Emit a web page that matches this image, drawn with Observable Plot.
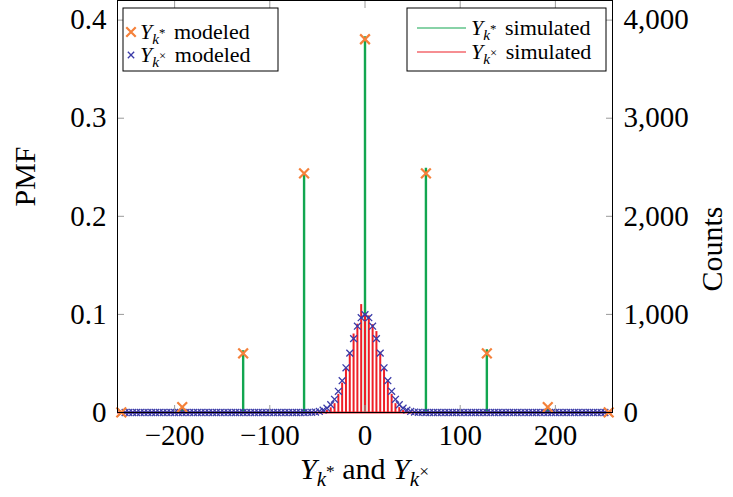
<!DOCTYPE html>
<html><head><meta charset="utf-8">
<script src="https://cdn.jsdelivr.net/npm/d3@7"></script>
<script src="https://cdn.jsdelivr.net/npm/@observablehq/plot@0.6"></script>
<style>body{margin:0;background:#fff} svg{display:block}</style>
</head><body><div id="chart"></div>
<script>
// Y_k* : lattice points, modeled PMF and simulated counts
const starX = [-256, -192, -128, -64, 0, 64, 128, 192, 256];
const starPmf = [0.0002, 0.0055, 0.0603, 0.2438, 0.3805, 0.2438, 0.0603, 0.0055, 0.0002];
const starCounts = [2, 48, 630, 2425, 3830, 2490, 640, 50, 2];

// Y_k× : fine grid, modeled PMF and simulated counts
const crossX = [-256,-252,-248,-244,-240,-236,-232,-228,-224,-220,-216,-212,-208,-204,-200,-196,-192,-188,-184,-180,-176,-172,-168,-164,-160,-156,-152,-148,-144,-140,-136,-132,-128,-124,-120,-116,-112,-108,-104,-100,-96,-92,-88,-84,-80,-76,-72,-68,-64,
 -60,-56,-52,-48,-44,-40,-36,-32,-28,-24,-20,-16,-12,-8,-4,0,4,8,12,16,20,24,28,32,36,40,44,48,52,56,60,
 64,68,72,76,80,84,88,92,96,100,104,108,112,116,120,124,128,132,136,140,144,148,152,156,160,164,168,172,176,180,184,188,192,196,200,204,208,212,216,220,224,228,232,236,240,244,248,252,256];
const crossPmf = [0,0,0,0,0,0,0,0,0,0,0,0,0,0,0,0,0,0,0,0,0,0,0,0,0,0,0,0,0,0,0,0,0,0,0,0,0,0,0,0,0,0,0,0,0,0,0,0,0,
 0.0001,0.0002,0.0005,0.0011,0.0023,0.0044,0.0079,0.0135,0.0216,0.0324,0.0456,0.0605,0.0753,0.0880,0.0966,0.0997,
 0.0966,0.0880,0.0753,0.0605,0.0456,0.0324,0.0216,0.0135,0.0079,0.0044,0.0023,0.0011,0.0005,0.0002,0.0001,
 0,0,0,0,0,0,0,0,0,0,0,0,0,0,0,0,0,0,0,0,0,0,0,0,0,0,0,0,0,0,0,0,0,0,0,0,0,0,0,0,0,0,0,0,0,0,0,0,0];
const crossCounts = [0,0,0,0,0,0,0,0,0,0,0,0,0,0,0,0,0,0,0,0,0,0,0,0,0,0,0,0,0,0,0,0,0,0,0,0,0,0,0,0,0,0,0,0,0,0,0,0,0,
 0,0,1,4,10,22,48,90,185,300,455,610,800,900,1100,1005,
 985,895,825,615,445,330,185,90,50,20,8,3,1,0,0,
 0,0,0,0,0,0,0,0,0,0,0,0,0,0,0,0,0,0,0,0,0,0,0,0,0,0,0,0,0,0,0,0,0,0,0,0,0,0,0,0,0,0,0,0,0,0,0,0,0];

const xTicks = [-200, -100, 0, 100, 200];
const pmfTicks = [0, 0.1, 0.2, 0.3, 0.4];
const countTicks = [0, 1000, 2000, 3000, 4000];
const COUNTS_PER_PMF = 10000; // right axis: 4,000 counts aligned with PMF 0.4

const W = 733, H = 497, mL = 117, mR = 121, mT = 0, mB = 85;
const F = "'Liberation Serif', 'DejaVu Serif', serif";
const ORANGE = "#f5813a", BLUE = "#3b3ba8", GREEN = "#12a650", RED = "#ee1f27", TICK = "#9a9a9a";

const stars = starX.map((x, i) => ({x, pmf: starPmf[i], count: starCounts[i]}));
const crosses = crossX.map((x, i) => ({x, pmf: crossPmf[i], count: crossCounts[i]}));

const plot = Plot.plot({
  width: W, height: H,
  marginLeft: mL, marginRight: mR, marginTop: mT, marginBottom: mB,
  x: {domain: [-260, 260]},
  y: {domain: [0, 0.42]},
  style: {fontFamily: F, fontSize: "29px", background: "white", color: "black", overflow: "visible"},
  marks: [
    Plot.ruleX(stars, {x: "x", y1: 0, y2: d => d.count / COUNTS_PER_PMF, stroke: GREEN, strokeWidth: 2.4}),
    Plot.ruleX(crosses.filter(d => d.count > 0), {x: "x", y1: 0, y2: d => d.count / COUNTS_PER_PMF, stroke: RED, strokeWidth: 2}),
    Plot.ruleY([0], {stroke: RED, strokeWidth: 2}),
    Plot.dot(crosses, {x: "x", y: "pmf", symbol: "times", r: 3.2, stroke: BLUE, strokeWidth: 1.3}),
    Plot.dot(stars, {x: "x", y: "pmf", symbol: "times", r: 4.5, stroke: ORANGE, strokeWidth: 2.2}),
    Plot.axisX({anchor: "bottom", ticks: xTicks, tickSize: -7, stroke: TICK, tickFormat: () => "", label: null}),
    Plot.axisX({anchor: "top", ticks: xTicks, tickSize: -7, stroke: TICK, tickFormat: () => "", label: null}),
    Plot.axisX({anchor: "bottom", ticks: xTicks, tickSize: 0, tickPadding: 12, fontSize: 29, label: null}),
    Plot.axisY({anchor: "left", ticks: pmfTicks, tickSize: -7, stroke: TICK, tickFormat: () => "", label: null}),
    Plot.axisY({anchor: "left", ticks: pmfTicks, tickSize: 0, tickPadding: 11, fontSize: 29, tickFormat: d3.format("~g"), label: null}),
    Plot.axisY({anchor: "right", ticks: pmfTicks, tickSize: -7, stroke: TICK, tickFormat: () => "", label: null}),
    Plot.axisY({anchor: "right", ticks: countTicks.map(c => c / COUNTS_PER_PMF), tickSize: 0, tickPadding: 11, fontSize: 29,
      tickFormat: d => d3.format(",")(Math.round(d * COUNTS_PER_PMF)), label: null}),
    Plot.frame({stroke: "black", strokeWidth: 1}),
    Plot.text(["PMF"], {frameAnchor: "left", dx: -92, rotate: -90, fontSize: 30, text: d => d}),
    Plot.text(["Counts"], {frameAnchor: "right", dx: 100, rotate: -90, fontSize: 30, text: d => d})
  ]
});
document.getElementById("chart").appendChild(plot);

const svg = d3.select(plot);

function mathY(t, size, sup) {
  t.append("tspan").attr("font-style", "italic").text("Y");
  t.append("tspan").attr("font-style", "italic").attr("font-size", size * 0.7).attr("dy", size * 0.22).text("k");
  t.append("tspan").attr("font-size", size * 0.58).attr("dy", -size * 0.3).text(sup);
}

// x axis label
{
  const s = 30;
  const t = svg.append("text").attr("x", (mL + W - mR) / 2).attr("y", 479)
    .attr("text-anchor", "middle").attr("font-family", F).attr("font-size", s).attr("fill", "black");
  mathY(t, s, "*");
  t.append("tspan").attr("dy", s * 0.08).text(" and ");
  mathY(t, s, "×");
}

// legends
const LS = 22;
function legendBox(x, y, w, h) {
  svg.append("rect").attr("x", x).attr("y", y).attr("width", w).attr("height", h)
    .attr("fill", "white").attr("stroke", "black").attr("stroke-width", 1);
}
function legendText(x, y, sup, rest) {
  const t = svg.append("text").attr("x", x).attr("y", y).attr("text-anchor", "start")
    .attr("font-family", F).attr("font-size", LS).attr("fill", "black");
  mathY(t, LS, sup);
  t.append("tspan").attr("dy", LS * 0.08).attr("dx", 3).text(rest);
}
// left legend: modeled
legendBox(123, 8, 155, 63);
svg.append("path").attr("d", d3.symbol(d3.symbolTimes, 60)()).attr("transform", "translate(131,32)")
  .attr("stroke", ORANGE).attr("stroke-width", 2.2).attr("fill", "none");
svg.append("path").attr("d", d3.symbol(d3.symbolTimes, 28)()).attr("transform", "translate(131,55)")
  .attr("stroke", BLUE).attr("stroke-width", 1.3).attr("fill", "none");
legendText(140, 39, "*", " modeled");
legendText(140, 62, "×", " modeled");
// right legend: simulated
legendBox(407, 8, 199, 63);
svg.append("line").attr("x1", 417).attr("x2", 466).attr("y1", 28).attr("y2", 28).attr("stroke", GREEN).attr("stroke-width", 1.2);
svg.append("line").attr("x1", 417).attr("x2", 466).attr("y1", 52).attr("y2", 52).attr("stroke", RED).attr("stroke-width", 1.2);
legendText(471, 35, "*", " simulated");
legendText(471, 59, "×", " simulated");
</script>
</body></html>
